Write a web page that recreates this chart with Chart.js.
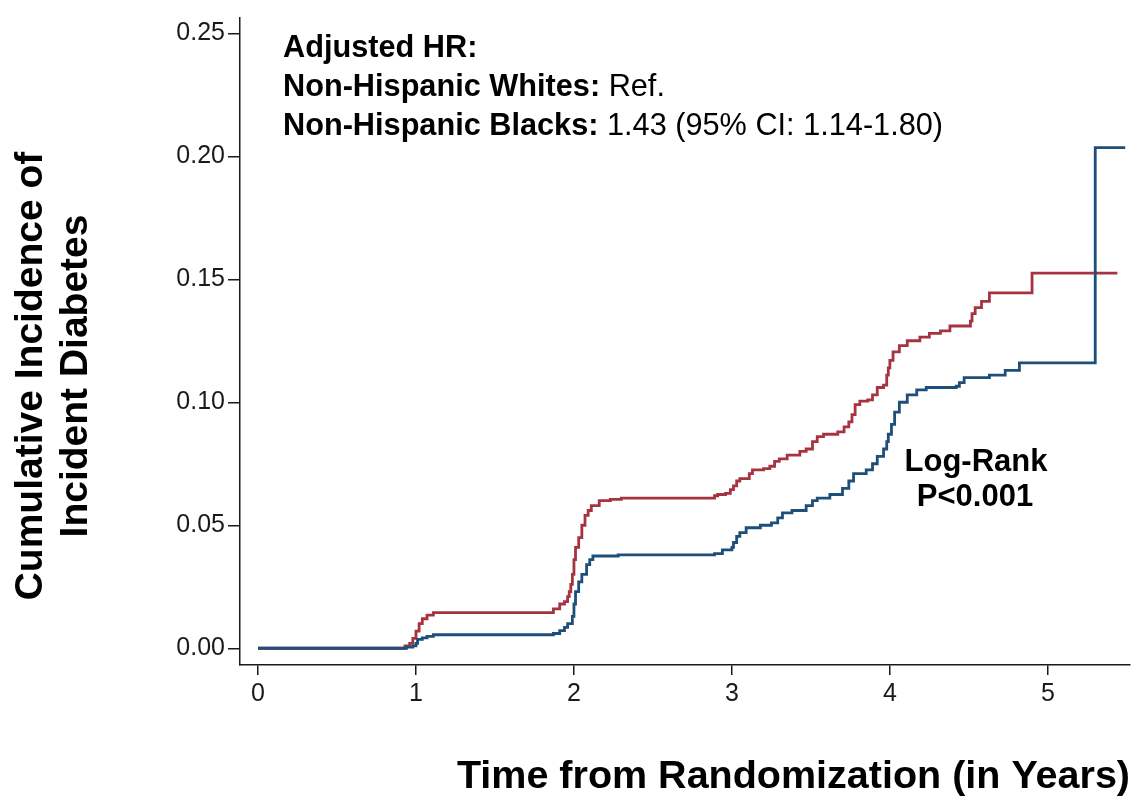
<!DOCTYPE html>
<html>
<head>
<meta charset="utf-8">
<script src="https://cdn.jsdelivr.net/npm/chart.js@4/dist/chart.umd.min.js"></script>
<style>
  html, body { margin: 0; padding: 0; background: #ffffff; }
  #c { display: block; }
</style>
</head>
<body>
<canvas id="c" width="1140" height="804"></canvas>
<script>
// ---- Data ----
const timesBlack = [0, 0.93, 0.96, 0.98, 1.00, 1.02, 1.04, 1.07, 1.11, 1.87, 1.91, 1.94, 1.96, 1.97, 1.98, 1.99, 2.00, 2.01, 2.03, 2.05, 2.07, 2.09, 2.11, 2.16, 2.23, 2.30, 2.89, 2.91, 2.96, 2.99, 3.01, 3.03, 3.05, 3.11, 3.13, 3.20, 3.24, 3.27, 3.30, 3.35, 3.43, 3.47, 3.51, 3.54, 3.58, 3.67, 3.71, 3.74, 3.76, 3.78, 3.81, 3.86, 3.89, 3.92, 3.96, 3.98, 3.99, 4.00, 4.02, 4.06, 4.11, 4.19, 4.25, 4.32, 4.38, 4.51, 4.52, 4.54, 4.58, 4.63, 4.90, 5.44];
const cumIncBlack = [0, 0.001, 0.002, 0.004, 0.007, 0.010, 0.012, 0.0135, 0.0145, 0.016, 0.018, 0.019, 0.021, 0.023, 0.026, 0.030, 0.036, 0.041, 0.045, 0.050, 0.054, 0.056, 0.058, 0.060, 0.0605, 0.061, 0.062, 0.0625, 0.063, 0.0645, 0.066, 0.068, 0.069, 0.071, 0.0725, 0.073, 0.074, 0.076, 0.077, 0.0785, 0.080, 0.081, 0.084, 0.086, 0.087, 0.088, 0.090, 0.092, 0.095, 0.099, 0.1005, 0.101, 0.103, 0.106, 0.107, 0.111, 0.114, 0.117, 0.1205, 0.123, 0.125, 0.1265, 0.128, 0.129, 0.131, 0.133, 0.136, 0.1385, 0.141, 0.1445, 0.1525, 0.1525];

const timesWhite = [0, 0.94, 0.98, 1.00, 1.01, 1.04, 1.07, 1.11, 1.87, 1.91, 1.94, 1.96, 1.99, 2.00, 2.01, 2.03, 2.05, 2.08, 2.10, 2.12, 2.28, 2.89, 2.94, 3.00, 3.01, 3.03, 3.05, 3.09, 3.18, 3.25, 3.29, 3.32, 3.38, 3.47, 3.51, 3.54, 3.62, 3.70, 3.74, 3.77, 3.85, 3.89, 3.92, 3.96, 3.98, 3.99, 4.01, 4.03, 4.06, 4.11, 4.17, 4.23, 4.42, 4.44, 4.47, 4.63, 4.73, 4.82, 5.30, 5.49];
const cumIncWhite = [0, 0.0005, 0.001, 0.002, 0.0036, 0.0042, 0.0048, 0.0055, 0.006, 0.0072, 0.0085, 0.010, 0.013, 0.018, 0.023, 0.027, 0.030, 0.034, 0.036, 0.0375, 0.038, 0.0385, 0.040, 0.041, 0.043, 0.0455, 0.047, 0.049, 0.050, 0.051, 0.053, 0.055, 0.056, 0.058, 0.060, 0.061, 0.0625, 0.065, 0.068, 0.071, 0.0725, 0.075, 0.078, 0.081, 0.084, 0.087, 0.091, 0.096, 0.100, 0.103, 0.105, 0.106, 0.1065, 0.108, 0.110, 0.111, 0.113, 0.116, 0.2035, 0.2035];

const xTicks = [0, 1, 2, 3, 4, 5];
const yTicks = [0.00, 0.05, 0.10, 0.15, 0.20, 0.25];

const seriesNames = ['Non-Hispanic Whites', 'Non-Hispanic Blacks'];
const yTitleLines = ['Cumulative Incidence of', 'Incident Diabetes'];
const xTitle = 'Time from Randomization (in Years)';
const annotationTitle = 'Adjusted HR:';
const annotationRows = [
  ['Non-Hispanic Whites:', ' Ref.'],
  ['Non-Hispanic Blacks:', ' 1.43 (95% CI: 1.14-1.80)']
];
const logRankLines = ['Log-Rank', 'P<0.001'];

// ---- Styles ----
const RED = 'rgb(166,52,64)';
const BLUE = 'rgb(30,78,122)';
const INK = '#1a1a1a';
const FONT = '"Liberation Sans", Arial, Helvetica, sans-serif';

const toPts = (xs, ys) => xs.map((x, i) => ({ x: x, y: ys[i] }));

const textPlugin = {
  id: 'texts',
  afterDraw(chart) {
    const ctx = chart.ctx;
    ctx.save();
    ctx.fillStyle = '#000';
    // Y title (rotated)
    ctx.font = 'bold 39px ' + FONT;
    ctx.textAlign = 'center';
    ctx.textBaseline = 'middle';
    const yc = 376;
    [[31, yTitleLines[0]], [76, yTitleLines[1]]].forEach(([cx, t]) => {
      ctx.save();
      ctx.translate(cx, yc);
      ctx.rotate(-Math.PI / 2);
      ctx.fillText(t, 0, 0);
      ctx.restore();
    });
    // X title
    ctx.font = 'bold 39.5px ' + FONT;
    ctx.textAlign = 'right';
    ctx.fillText(xTitle, 1130, 777);

    // Annotation block
    ctx.textAlign = 'left';
    ctx.font = 'bold 30.7px ' + FONT;
    ctx.fillText(annotationTitle, 283, 49);
    const rowsY = [88, 127];
    annotationRows.forEach((r, i) => {
      ctx.font = 'bold 30.7px ' + FONT;
      ctx.fillText(r[0], 283, rowsY[i]);
      const w = ctx.measureText(r[0]).width;
      ctx.font = '30.7px ' + FONT;
      ctx.fillText(r[1], 283 + w, rowsY[i]);
    });

    // Log-rank
    ctx.font = 'bold 31px ' + FONT;
    ctx.textAlign = 'center';
    ctx.fillText(logRankLines[0], 976, 462);
    ctx.fillText(logRankLines[1], 975, 497);
    ctx.restore();
  }
};

new Chart(document.getElementById('c'), {
  type: 'line',
  data: {
    datasets: [
      {
        label: seriesNames[0],
        data: toPts(timesWhite, cumIncWhite),
        borderColor: BLUE,
        borderWidth: 2.8,
        pointRadius: 0,
        stepped: 'before',
        fill: false
      },
      {
        label: seriesNames[1],
        data: toPts(timesBlack, cumIncBlack),
        borderColor: RED,
        borderWidth: 2.8,
        pointRadius: 0,
        stepped: 'before',
        fill: false
      }
    ]
  },
  options: {
    responsive: false,
    animation: false,
    devicePixelRatio: 1,
    layout: { padding: { left: 0, right: 10, top: 9, bottom: 0 } },
    plugins: {
      legend: { display: false },
      tooltip: { enabled: false },
      title: { display: false }
    },
    scales: {
      x: {
        type: 'linear',
        min: -0.114,
        max: 5.52,
        afterBuildTicks: (s) => { s.ticks = xTicks.map(v => ({ value: v })); },
        afterFit: (s) => { s.height = 139; },
        grid: { drawOnChartArea: false, drawTicks: true, tickLength: 10, color: INK, lineWidth: 1.5 },
        border: { display: true, color: INK, width: 1.5 },
        ticks: {
          color: INK,
          font: { family: FONT, size: 25 },
          padding: 4,
          maxRotation: 0,
          autoSkip: false,
          callback: (v) => String(v)
        }
      },
      y: {
        type: 'linear',
        min: -0.0068,
        max: 0.2562,
        afterBuildTicks: (s) => { s.ticks = yTicks.map(v => ({ value: v })); },
        afterFit: (s) => { s.width = 240; },
        grid: { drawOnChartArea: false, drawTicks: true, tickLength: 12, color: INK, lineWidth: 1.5 },
        border: { display: true, color: INK, width: 1.5 },
        ticks: {
          color: INK,
          font: { family: FONT, size: 25 },
          padding: 3,
          autoSkip: false,
          callback: (v) => Number(v).toFixed(2)
        }
      }
    }
  },
  plugins: [textPlugin]
});
</script>
</body>
</html>
